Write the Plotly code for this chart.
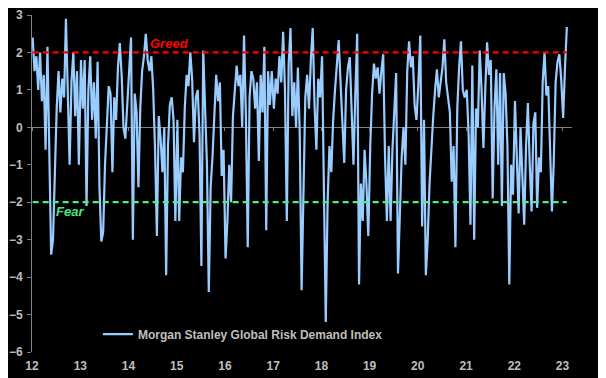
import pandas as pd
import plotly.graph_objects as go

# ---- data (bi-weekly readings, one list per year) ----
v2012 = [2.4, 1.5, 1.9, 1.0, 2.0, 0.7, 1.4, -0.6, 2.15, -1.3, -3.4, -3.0, -1.0, 0.5, 1.5, 0.4, 1.3, 0.8, 2.9, 0.9, -1.0, 1.2, 2.0, 0.3, 1.5, -1.0]
v2013 = [1.8, 0.5, 1.8, -2.1, 1.0, 1.9, 0.2, 1.2, -0.3, 1.75, -1.6, -3.05, -2.8, -1.0, 0.2, 1.1, 0.9, -1.2, 0.8, 0.2, 1.6, 2.25, 1.4, 0.0, -0.3, 0.6]
v2014 = [1.4, 2.4, -3.0, 0.9, 0.4, -1.6, 0.5, 1.5, 1.9, 2.5, 1.8, 1.5, 1.9, 1.0, -0.6, -2.9, 0.3, -0.3, -1.2, 0.0, -3.95, -0.5, 0.6, 0.8, 0.2, -2.5]
v2015 = [0.2, -2.5, -0.8, -1.2, 0.5, 1.4, 1.1, 2.0, 1.3, -0.4, 0.8, 1.0, -0.2, -3.7, 2.05, 0.2, -1.0, -4.4, -1.6, -0.8, 0.5, 1.4, 0.7, 1.2, -1.3, -0.6]
v2016 = [-3.5, -2.5, -1.0, -2.0, 0.3, 1.0, 1.65, 1.1, 1.4, 0.0, 2.45, 0.3, -3.2, 0.8, 1.5, 1.3, 0.5, 1.2, -0.9, 1.4, 0.4, 2.15, -2.75, 1.5, 0.6, 1.5]
v2017 = [0.5, 1.3, 0.9, 1.9, 1.2, 2.55, 1.0, -2.5, 1.7, 2.65, 0.3, 1.2, 0.0, 1.6, -0.2, -4.35, -1.5, 0.8, 1.4, 0.5, 1.8, 2.65, 0.6, -0.6, 1.3, 0.8]
v2018 = [1.9, -1.2, -5.2, -2.0, -0.5, -1.2, 0.2, 1.0, 1.65, 2.33, 1.2, 0.0, -0.95, 1.0, 1.6, 1.87, 0.5, -1.0, 0.9, 2.5, -4.2, -1.5, -2.5, -0.6, -1.5, -2.9]
v2019 = [-0.5, 0.9, 1.7, 1.3, 1.6, 0.9, 1.5, 1.95, -0.8, -2.5, -0.5, -2.5, -0.6, 0.4, 1.45, -3.9, -2.2, -0.8, 0.0, -1.0, 1.5, 2.3, 1.6, 1.9, 0.6, 0.2]
v2020 = [1.2, 2.45, -2.65, 0.2, -3.95, -3.0, -1.5, -0.5, 0.3, 1.0, 1.55, 0.8, 1.2, 1.6, 2.35, 1.2, 0.8, 0.4, -1.45, -0.5, -3.2, 0.5, 1.6, 2.3, 1.0, 0.8]
v2021 = [1.0, -0.2, -2.6, 1.65, -3.0, 0.5, 0.0, 2.05, 1.0, -0.55, 1.0, 2.27, 1.4, 1.8, -1.9, 0.5, 1.55, -1.0, 1.45, -2.1, 1.45, 0.9, -0.5, -4.2, -1.0, -1.8]
v2022 = [0.7, -1.0, -2.3, 0.0, -1.5, -2.6, -0.5, 0.65, -1.0, -2.25, 0.1, 0.4, -2.15, -0.8, -1.2, 1.2, 2.0, 0.85, 1.1, -0.6, -2.25, -0.9, 1.2, 1.75, 1.95, 1.3]
v2023 = [0.25, 1.6, 2.68]

years = list(range(2012, 2024))
yearly = [v2012, v2013, v2014, v2015, v2016, v2017, v2018, v2019, v2020, v2021, v2022, v2023]

tick_years = list(range(2012, 2024))
tick_labels = [str(y)[2:] for y in tick_years]
y_ticks = list(range(-6, 4))

greed_level = 2
fear_level = -2
series_name = "Morgan Stanley Global Risk Demand Index"

# ---- build series ----
dates, values = [], []
for yr, vals in zip(years, yearly):
    d = pd.date_range(f"{yr}-01-06", periods=len(vals), freq="14D")
    dates.extend(d)
    values.extend(vals)

first, last = dates[0], dates[-1]

FONT = "Liberation Sans, Arial, sans-serif"
GRAY = "#BFBFBF"
AXIS = "#808080"

fig = go.Figure()
fig.add_trace(go.Scatter(
    x=dates, y=values, mode="lines", name=series_name,
    line=dict(color="#99CCFF", width=2.2), showlegend=True))
fig.add_trace(go.Scatter(
    x=[first, last], y=[greed_level, greed_level], mode="lines",
    line=dict(color="#FF0000", width=2.2, dash="6px,4px"), showlegend=False, xaxis="x2"))
fig.add_trace(go.Scatter(
    x=[first, last], y=[fear_level, fear_level], mode="lines",
    line=dict(color="#4CF08C", width=2.2, dash="6px,4px"), showlegend=False))

fig.add_annotation(x=pd.Timestamp("2014-11-10"), y=greed_level, yshift=9, text="<b><i>Greed</i></b>",
                   showarrow=False, font=dict(family=FONT, size=13, color="#FF0000"))
fig.add_annotation(x=pd.Timestamp("2012-10-15"), y=fear_level, yshift=-9, text="<b><i>Fear</i></b>",
                   showarrow=False, font=dict(family=FONT, size=13, color="#45E985"))

xrange = [pd.Timestamp("2012-01-01"), pd.Timestamp("2023-03-14")]
tickvals = [pd.Timestamp(f"{y}-01-01") for y in tick_years]

fig.update_layout(
    width=598, height=371,
    margin=dict(l=24, r=34, t=7, b=27, autoexpand=False),
    paper_bgcolor="black", plot_bgcolor="black",
    font=dict(family=FONT, size=12, color=GRAY, weight="bold"),
    xaxis=dict(type="date", range=xrange, tickvals=tickvals, ticktext=tick_labels,
               showgrid=False, zeroline=False, showline=False, ticks="", automargin=False,
               ticklabeloverflow="allow",
               tickfont=dict(family=FONT, size=12, color=GRAY, weight="bold"),
               ticklabelstandoff=5),
    xaxis2=dict(type="date", range=xrange, tickvals=tickvals, overlaying="x", matches="x",
                anchor="free", position=6/9, showgrid=False, zeroline=False, showline=False,
                automargin=False,
                ticks="outside", ticklen=3, tickcolor=AXIS, tickwidth=1, showticklabels=False),
    yaxis=dict(range=[-6, 3], tickvals=y_ticks, showgrid=False, automargin=False,
               zeroline=True, zerolinecolor=AXIS, zerolinewidth=1,
               showline=True, linecolor=AXIS, linewidth=1,
               ticks="outside", ticklen=4, tickcolor=AXIS,
               ticklabeloverflow="allow",
               tickfont=dict(family=FONT, size=12, color=GRAY, weight="bold"),
               ticklabelstandoff=2),
    legend=dict(x=0.122, y=0.053, xanchor="left", yanchor="middle",
                bgcolor="rgba(0,0,0,0)",
                font=dict(family=FONT, size=12, color=GRAY, weight="bold")),
    showlegend=True,
)

fig.write_html("out.html")
